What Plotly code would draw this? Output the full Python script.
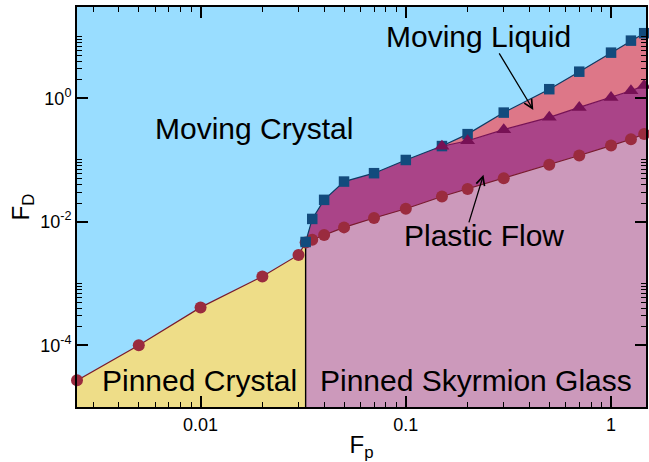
import numpy as np
import plotly.graph_objects as go

# ---------------- data ----------------
# depinning threshold (circles)
fp_depin = [0.0025, 0.005, 0.01, 0.02, 0.03, 0.0325, 0.035, 0.04, 0.05, 0.07,
            0.1, 0.15, 0.2, 0.3, 0.5, 0.7, 1.0, 1.25, 1.45]
fd_depin = [2.7e-5, 1.0e-4, 4.1e-4, 1.3e-3, 2.9e-3, 4.6e-3, 5.1e-3, 6.1e-3, 8.1e-3, 0.0115,
            0.0162, 0.0256, 0.034, 0.0508, 0.0834, 0.118, 0.171, 0.217, 0.264]
# dynamic ordering into moving crystal (squares)
fp_order = [0.0325, 0.035, 0.04, 0.05, 0.07, 0.1, 0.15, 0.2, 0.3, 0.5, 0.7, 1.0, 1.25, 1.45]
fd_order = [4.7e-3, 0.0111, 0.0226, 0.0447, 0.0611, 0.100, 0.168, 0.262, 0.585, 1.40,
            2.69, 5.47, 8.56, 11.3]
# plastic flow -> moving liquid (triangles)
fp_liquid = [0.15, 0.2, 0.3, 0.5, 0.7, 1.0, 1.25, 1.45]
fd_liquid = [0.167, 0.205, 0.31, 0.49, 0.71, 1.03, 1.32, 1.6]

fp_glass = 0.0325  # crystal / glass boundary

x_tick_vals = [0.01, 0.1, 1]
x_tick_text = ["0.01", "0.1", "1"]
y_tick_vals = [1e-4, 1e-2, 1]
y_tick_text = ["10<sup>-4</sup>", "10<sup>-2</sup>", "10<sup>0</sup>"]

region_labels = ["Moving Crystal", "Moving Liquid", "Plastic Flow",
                 "Pinned Crystal", "Pinned Skyrmion Glass"]

# ---------------- styling ----------------
XMIN, XMAX = 0.0025, 1.48
YMIN, YMAX = 1e-5, 30.0
FONT = "Liberation Sans, Arial, Helvetica, sans-serif"

C_SKY = "#99DDFF"
C_YEL = "#EEDD88"
C_GLASS = "#CC99BB"
C_PLASTIC = "#AA4488"
C_LIQ = "#DD7788"
C_CIRC = "#9A2B3E"
C_CIRC_LINE = "#7A1A2C"
C_SQ = "#124B7D"
C_SQ_LINE = "#0E3A63"
C_TRI = "#771155"

fig = go.Figure()

# pinned crystal region
xs = [x for x in fp_depin if x <= fp_glass]
ys = fd_depin[:len(xs)]
fig.add_trace(go.Scatter(x=xs + [fp_glass, XMIN], y=ys + [YMIN, YMIN], fill="toself",
                         fillcolor=C_YEL, mode="lines", line=dict(width=0), hoverinfo="skip"))

# pinned skyrmion glass region
gx = [x for x in fp_depin if x >= fp_glass]
gy = fd_depin[len(fp_depin) - len(gx):]
fig.add_trace(go.Scatter(x=gx + [XMAX, XMAX, fp_glass], y=gy + [gy[-1], YMIN, YMIN],
                         fill="toself", fillcolor=C_GLASS, mode="lines", line=dict(width=0),
                         hoverinfo="skip"))

# plastic flow region
ux = [x for x in fp_order if x <= 0.15] + [x for x in fp_liquid if x > 0.15]
uy = [y for x, y in zip(fp_order, fd_order) if x <= 0.15] + \
     [y for x, y in zip(fp_liquid, fd_liquid) if x > 0.15]
fig.add_trace(go.Scatter(x=gx + [XMAX, XMAX] + ux[::-1], y=gy + [gy[-1], uy[-1]] + uy[::-1],
                         fill="toself", fillcolor=C_PLASTIC, mode="lines", line=dict(width=0),
                         hoverinfo="skip"))

# moving liquid region
ox = [x for x in fp_order if x >= 0.15]
oy = [y for x, y in zip(fp_order, fd_order) if x >= 0.15]
fig.add_trace(go.Scatter(x=fp_liquid + [XMAX, XMAX] + ox[::-1],
                         y=fd_liquid + [fd_liquid[-1], oy[-1]] + oy[::-1],
                         fill="toself", fillcolor=C_LIQ, mode="lines", line=dict(width=0),
                         hoverinfo="skip"))

# vertical crystal/glass boundary
fig.add_trace(go.Scatter(x=[fp_glass, fp_glass], y=[YMIN, fd_depin[fp_depin.index(fp_glass)]],
                         mode="lines", line=dict(color="black", width=1.4), hoverinfo="skip"))

# boundaries with markers
fig.add_trace(go.Scatter(x=fp_depin, y=fd_depin, mode="lines+markers", cliponaxis=False,
                         line=dict(color=C_CIRC_LINE, width=1.2),
                         marker=dict(symbol="circle", size=12, color=C_CIRC)))
fig.add_trace(go.Scatter(x=fp_order, y=fd_order, mode="lines+markers", cliponaxis=False,
                         line=dict(color=C_SQ_LINE, width=1.2),
                         marker=dict(symbol="square", size=10.5, color=C_SQ)))
fig.add_trace(go.Scatter(x=fp_liquid, y=fd_liquid, mode="lines+markers", cliponaxis=False,
                         line=dict(color=C_TRI, width=1.2),
                         marker=dict(symbol="triangle-up", size=13, color=C_TRI)))

# region labels
label_pos = [(0.311, 0.697), (0.706, 0.927), (0.716, 0.428), (0.215, 0.066), (0.701, 0.066)]
for txt, (px, py) in zip(region_labels, label_pos):
    fig.add_annotation(text=txt, x=px, y=py, xref="paper", yref="paper", showarrow=False,
                       xanchor="center", yanchor="middle",
                       font=dict(family=FONT, size=30, color="black"))

# arrows
fig.add_annotation(x=np.log10(0.418), y=np.log10(0.647), xref="x", yref="y",
                   ax=-35, ay=-58, text="", showarrow=True, arrowhead=5, arrowsize=1.3,
                   arrowwidth=1.3, arrowcolor="black")
fig.add_annotation(x=np.log10(0.239), y=np.log10(0.0574), xref="x", yref="y",
                   ax=-15, ay=49, text="", showarrow=True, arrowhead=5, arrowsize=1.3,
                   arrowwidth=1.3, arrowcolor="black")

x_minor = [k * 10.0 ** e for e in (-3, -2, -1) for k in range(2, 10)]
y_minor = [k * 10.0 ** e for e in (-4, -2, 0) for k in range(2, 11)]

axis_common = dict(type="log", ticks="inside", ticklen=11, tickwidth=1.5, tickcolor="black",
                   showline=True, linecolor="black", linewidth=2, mirror="ticks",
                   showgrid=False, zeroline=False,
                   tickfont=dict(family=FONT, size=18, color="black"))
minor_common = dict(tickmode="array", ticks="inside", ticklen=5, tickwidth=1.3,
                    tickcolor="black", showgrid=False)

fig.update_layout(
    width=649, height=462,
    margin=dict(l=77, r=1, t=7, b=55),
    paper_bgcolor="white", plot_bgcolor=C_SKY,
    showlegend=False,
    font=dict(family=FONT, color="black"),
    xaxis=dict(range=[np.log10(XMIN), np.log10(XMAX)], tickmode="array",
               tickvals=x_tick_vals, ticktext=x_tick_text,
               minor=dict(tickvals=x_minor, **minor_common),
               title=dict(text="F<sub>p</sub>", font=dict(family=FONT, size=24), standoff=8),
               **axis_common),
    yaxis=dict(range=[np.log10(YMIN), np.log10(YMAX)], tickmode="array",
               tickvals=y_tick_vals, ticktext=y_tick_text,
               minor=dict(tickvals=y_minor, **minor_common),
               title=dict(text="F<sub>D</sub>", font=dict(family=FONT, size=24), standoff=4),
               **axis_common),
)

fig.write_html("out.html")
